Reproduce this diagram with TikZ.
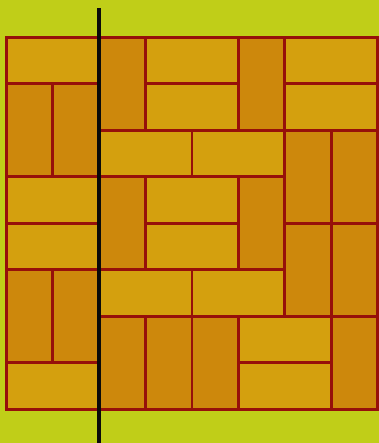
\documentclass[tikz,border=0pt]{standalone}
\usepackage{tikz}
\definecolor{meadow}{RGB}{192,206,24}
\definecolor{brickred}{RGB}{150,16,10}
\definecolor{tilelong}{RGB}{212,160,14}
\definecolor{tilehigh}{RGB}{205,136,12}
\definecolor{cutline}{RGB}{10,10,10}

\begin{document}
\begin{tikzpicture}[
      htile/.style={fill=tilelong, draw=brickred, line width=1.8pt},
      vtile/.style={fill=tilehigh, draw=brickred, line width=1.8pt},
      cut/.style={draw=cutline, line width=2.4pt}]
    % background and frame of the picture
    \fill[meadow] (-0.13,-0.73) rectangle (8.02,8.8);
    \useasboundingbox (-0.13,-0.73) rectangle (8.02,8.8);
    % lying tiles
    \foreach \xa/\ya/\xb/\yb in {0/7/2/8, 0/4/2/5, 0/3/2/4, 0/0/2/1,
        3/7/5/8, 3/6/5/7, 6/7/8/8, 6/6/8/7,
        2/5/4/6, 4/5/6/6, 3/4/5/5, 3/3/5/4,
        2/2/4/3, 4/2/6/3, 5/1/7/2, 5/0/7/1}
      \draw[htile] (\xa,\ya) rectangle (\xb,\yb);
    % standing tiles
    \foreach \xa/\ya/\xb/\yb in {0/5/1/7, 1/5/2/7, 0/1/1/3, 1/1/2/3,
        2/6/3/8, 5/6/6/8, 6/4/7/6, 7/4/8/6,
        2/3/3/5, 5/3/6/5, 6/2/7/4, 7/2/8/4,
        2/0/3/2, 3/0/4/2, 4/0/5/2, 7/0/8/2}
      \draw[vtile] (\xa,\ya) rectangle (\xb,\yb);
    % the cut
    \coordinate (cuttop) at (2,8.62);
    \coordinate (cutbot) at (2,-0.73);
    \draw[cut] (cuttop) -- (cutbot);
  \end{tikzpicture}
\end{document}
